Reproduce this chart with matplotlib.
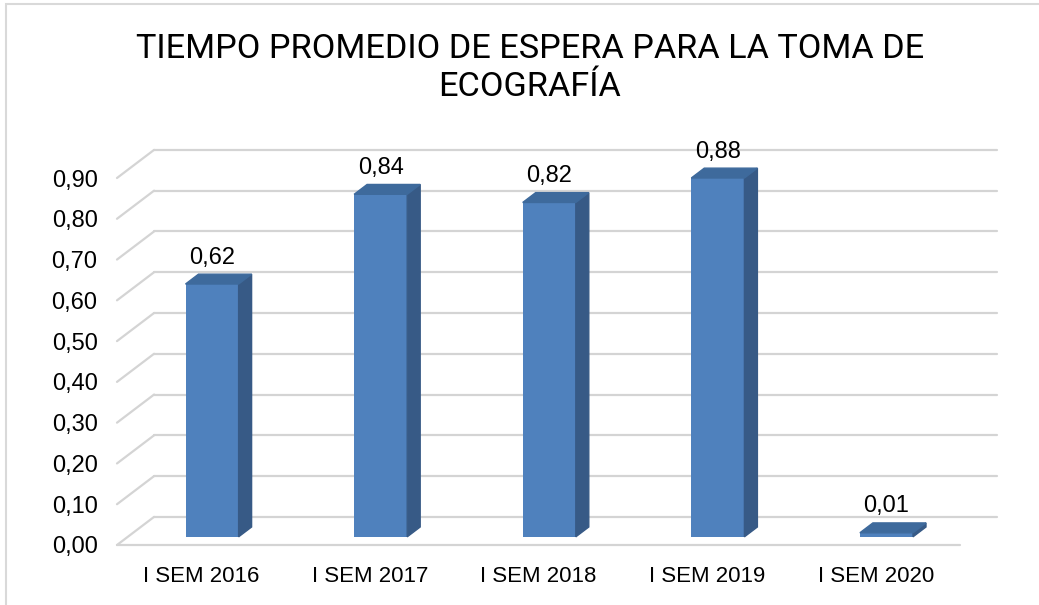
import matplotlib.pyplot as plt
from matplotlib.patches import Polygon, Rectangle
from matplotlib import font_manager
import numpy as np

plt.rcParams['font.family'] = ['Liberation Sans', 'DejaVu Sans']

categories = ["I SEM 2016", "I SEM 2017", "I SEM 2018", "I SEM 2019", "I SEM 2020"]
values = [0.62, 0.84, 0.82, 0.88, 0.01]
value_labels = ["0,62", "0,84", "0,82", "0,88", "0,01"]
yticks = [0.0, 0.1, 0.2, 0.3, 0.4, 0.5, 0.6, 0.7, 0.8, 0.9]
ytick_labels = ["0,00", "0,10", "0,20", "0,30", "0,40", "0,50", "0,60", "0,70", "0,80", "0,90"]
title = "TIEMPO PROMEDIO DE ESPERA PARA LA TOMA DE\nECOGRAFÍA"

# fake 3d depth, in data units
DX = 0.22
DY = 0.069
f0 = 0.29      # depth where the bar front sits
fd = 0.35      # bar depth
w = 0.315

front_col = "#4f81bd"
side_col = "#375a86"
top_col = "#3e6a9c"
grid_col = "#d4d4d4"

names = {f.name for f in font_manager.fontManager.ttflist}
title_font = "Liberation Sans Narrow" if "Liberation Sans Narrow" in names else "Roboto"
title_size = 28 if title_font == "Liberation Sans Narrow" else 24.7

fig = plt.figure(figsize=(10.39, 6.05), dpi=100)
ax = fig.add_axes([117/1039, 60/605, 843/1039, 367/605])
ax.set_xlim(-0.5, 4.5)
ax.set_ylim(0, 0.9)
for s in ax.spines.values():
    s.set_visible(False)
ax.patch.set_alpha(0)

# chart border
fig.patches.append(Rectangle((6/1039, -0.01), 1.02, 1 - 4/605 + 0.01, transform=fig.transFigure,
                             fill=False, edgecolor="#d9d9d9", lw=1.5))

# gridlines on back wall + left wall diagonals
for v in yticks:
    ax.plot([-0.5 + DX, 4.5 + DX], [v + DY, v + DY], color=grid_col, lw=1.6, clip_on=False, zorder=1,
            solid_capstyle="round")
    ax.plot([-0.5, -0.5 + DX], [v, v + DY], color=grid_col, lw=1.6, clip_on=False, zorder=1,
            solid_capstyle="round")
ax.plot([-0.5, 4.5], [0, 0], color=grid_col, lw=1.6, clip_on=False, zorder=1, solid_capstyle="round")

x = np.arange(len(categories))
xf = x + f0 * DX
yb = f0 * DY
bars = ax.bar(xf, values, width=w, bottom=yb, color=front_col, zorder=3, clip_on=False)

for xi, v, lab in zip(xf, values, value_labels):
    x0 = xi - w / 2
    x1 = xi + w / 2
    top = yb + v
    ax.add_patch(Polygon([(x1, yb), (x1, top), (x1 + fd * DX, top + fd * DY), (x1 + fd * DX, yb + fd * DY)],
                         closed=True, color=side_col, zorder=3, clip_on=False))
    ax.add_patch(Polygon([(x0, top), (x1, top), (x1 + fd * DX, top + fd * DY), (x0 + fd * DX, top + fd * DY)],
                         closed=True, color=top_col, zorder=3, clip_on=False))
    ax.annotate(lab, (xi, top + fd * DY), xytext=(0, 4), textcoords="offset points",
                ha="center", va="bottom", fontsize=17, zorder=4, annotation_clip=False)

ax.set_yticks(yticks)
ax.set_yticklabels(ytick_labels, fontsize=17)
ax.set_xticks(x)
ax.set_xticklabels(categories, fontsize=16)
ax.tick_params(length=0)
ax.tick_params(axis="y", pad=14)
ax.tick_params(axis="x", pad=15)

fig.text(0.51, 0.945, title, ha="center", va="top", fontsize=title_size, linespacing=1.22,
         family=[title_font, "Liberation Sans"])

fig.savefig("out.png", dpi=100)
